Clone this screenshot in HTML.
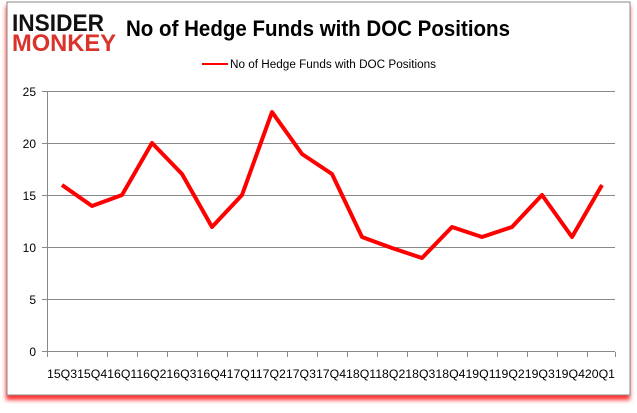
<!DOCTYPE html>
<html><head><style>
body{margin:0;width:637px;height:408px;background:#fff;overflow:hidden;font-family:"Liberation Sans",sans-serif}
</style></head><body>
<svg width="637" height="408" xmlns="http://www.w3.org/2000/svg">
<defs><filter id="b" x="-5%" y="-5%" width="110%" height="110%"><feGaussianBlur stdDeviation="2"/></filter></defs>
<rect x="6" y="6" width="624" height="394" fill="#f33" filter="url(#b)"/>
<rect x="7" y="2" width="623" height="393" fill="#fff" stroke="#888" stroke-width="1"/>
<text x="12" y="31" font-family="Liberation Sans" font-weight="900" font-size="24" fill="#111" textLength="92" lengthAdjust="spacingAndGlyphs">INSIDER</text>
<text x="12" y="51" font-family="Liberation Sans" font-weight="900" font-size="24" fill="#d9332b" textLength="104" lengthAdjust="spacingAndGlyphs">MONKEY</text>
<text x="126" y="36" font-size="22" font-weight="bold" fill="#000" textLength="384" lengthAdjust="spacingAndGlyphs">No of Hedge Funds with DOC Positions</text>
<line x1="202" y1="64" x2="228" y2="64" stroke="red" stroke-width="2"/>
<text x="230" y="68" font-size="11.5" fill="#000" textLength="206" lengthAdjust="spacingAndGlyphs">No of Hedge Funds with DOC Positions</text>
<g stroke="#888" stroke-width="1">
<line x1="42" y1="91.5" x2="615" y2="91.5"/>
<line x1="42" y1="143.5" x2="615" y2="143.5"/>
<line x1="42" y1="195.5" x2="615" y2="195.5"/>
<line x1="42" y1="247.5" x2="615" y2="247.5"/>
<line x1="42" y1="299.5" x2="615" y2="299.5"/>
<line x1="42" y1="351.5" x2="615" y2="351.5"/>
<line x1="47.5" y1="91" x2="47.5" y2="352"/>
<path d="M77.5 352v5M107.5 352v5M137.5 352v5M167.5 352v5M197.5 352v5M227.5 352v5M257.5 352v5M287.5 352v5M317.5 352v5M347.5 352v5M377.5 352v5M407.5 352v5M437.5 352v5M467.5 352v5M497.5 352v5M527.5 352v5M557.5 352v5M587.5 352v5M615.5 352v5M47.5 352v5"/>
</g>
<g font-size="12" fill="#000" text-anchor="end">
<text x="36" y="96">25</text><text x="36" y="148">20</text><text x="36" y="200">15</text>
<text x="36" y="252">10</text><text x="36" y="304">5</text><text x="36" y="356">0</text>
</g>
<text x="47" y="378" font-size="11.5" fill="#000" textLength="568" lengthAdjust="spacingAndGlyphs">15Q315Q416Q116Q216Q316Q417Q117Q217Q317Q418Q118Q218Q318Q419Q119Q219Q319Q420Q1</text>
<polyline fill="none" stroke="red" stroke-width="4" stroke-linejoin="round" points="62,185 92,206 122,195 152,143 182,174 212,227 242,195 272,112 302,154 332,174 362,237 392,248 422,258 452,227 482,237 512,227 542,195 572,237 602,185"/>
</svg>
</body></html>
